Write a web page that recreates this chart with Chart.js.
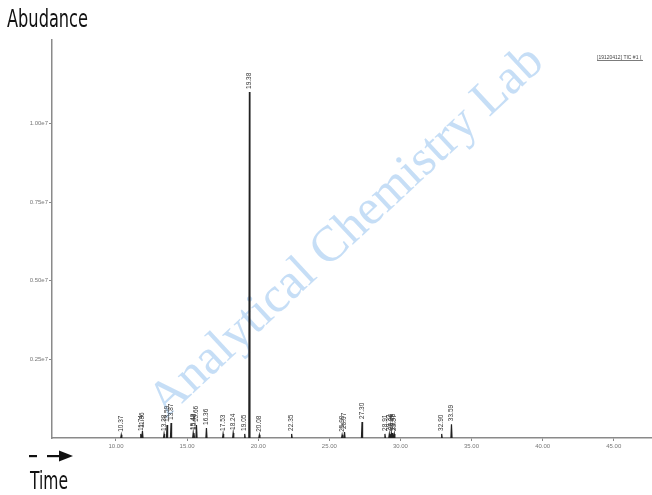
<!DOCTYPE html>
<html>
<head>
<meta charset="utf-8">
<script src="https://cdn.jsdelivr.net/npm/chart.js@4"></script>
<style>
  body { margin: 0; background: #fff; }
  canvas { display: block; }
</style>
</head>
<body>
<canvas id="tic" width="652" height="495"></canvas>
<script>
// retention times (min) and apex abundances
const peakTimes = [10.37, 11.74, 11.86, 13.38, 13.59, 13.87, 15.43, 15.48, 15.66, 16.36, 17.53, 18.24, 19.05, 19.38, 20.08, 22.35, 25.90, 26.07, 27.30, 28.91, 29.22, 29.36, 29.46, 29.57, 32.90, 33.59];
const peakHeights = [1.0e5, 1.3e5, 2.2e5, 1.3e5, 4.1e5, 4.8e5, 1.6e5, 1.6e5, 4.1e5, 3.2e5, 1.3e5, 1.6e5, 1.3e5, 1.10e7, 1.0e5, 1.3e5, 1.0e5, 1.9e5, 5.1e5, 1.3e5, 1.3e5, 1.6e5, 1.6e5, 1.3e5, 1.3e5, 4.4e5];
const peakLabels = ['10.37', '11.74', '11.86', '13.38', '13.59', '13.87', '15.43', '15.48', '15.66', '16.36', '17.53', '18.24', '19.05', '19.38', '20.08', '22.35', '25.90', '26.07', '27.30', '28.91', '29.22', '29.36', '29.46', '29.57', '32.90', '33.59'];

const xTicks = [10, 15, 20, 25, 30, 35, 40, 45];
const yTicks = [2.5e6, 5.0e6, 7.5e6, 1.0e7];

const halfWidth = 0.04;
const axisGray = '#8a8a8a';

// each peak is a narrow triangle, separated by gaps
const trace = [];
peakTimes.forEach((t, i) => {
    trace.push({ x: t - halfWidth, y: 0 });
    trace.push({ x: t, y: peakHeights[i] });
    trace.push({ x: t + halfWidth, y: 0 });
    trace.push({ x: t + halfWidth, y: null });
});

const extras = {
    id: 'extras',
    beforeDatasetsDraw(chart) {
        const ctx = chart.ctx;
        ctx.save();
        ctx.translate(347, 232);
        ctx.rotate(-43 * Math.PI / 180);
        ctx.font = '50px "Liberation Serif", "DejaVu Serif", serif';
        ctx.fillStyle = 'rgba(160, 200, 240, 0.6)';
        ctx.textAlign = 'center';
        ctx.textBaseline = 'middle';
        ctx.fillText('Analytical Chemistry Lab', 0, 0);
        ctx.restore();
    },
    afterDatasetsDraw(chart) {
        const ctx = chart.ctx;
        const xs = chart.scales.x, ys = chart.scales.y;
        ctx.save();
        ctx.font = '6.5px "Liberation Sans", Arial, sans-serif';
        ctx.fillStyle = '#333';
        ctx.textAlign = 'left';
        ctx.textBaseline = 'middle';
        peakTimes.forEach((t, i) => {
            const px = xs.getPixelForValue(t);
            const py = ys.getPixelForValue(peakHeights[i]);
            ctx.save();
            ctx.translate(px, py - 3);
            ctx.rotate(-Math.PI / 2);
            ctx.fillText(peakLabels[i], 0, 0);
            ctx.restore();
        });
        ctx.restore();
    },
    afterDraw(chart) {
        const ctx = chart.ctx;
        ctx.save();
        ctx.fillStyle = '#111';
        ctx.textAlign = 'left';
        ctx.textBaseline = 'alphabetic';
        ctx.font = '25px "Liberation Sans Narrow", "DejaVu Sans Condensed", sans-serif';
        ctx.fillText('Abudance', 7, 27, 81);
        ctx.fillText('Time', 30, 489, 38);

        // dashed arrow
        ctx.fillRect(29, 455, 8, 2.2);
        ctx.fillRect(47, 455, 14, 2.2);
        ctx.beginPath();
        ctx.moveTo(59, 450.5);
        ctx.lineTo(73, 456);
        ctx.lineTo(59, 461.5);
        ctx.closePath();
        ctx.fill();

        // run id, top right
        ctx.font = '5px "Liberation Sans", Arial, sans-serif';
        ctx.fillStyle = '#444';
        ctx.fillText('[19120412] TIC #1 (', 597, 59);
        ctx.fillRect(597, 60, 46, 0.7);
        ctx.restore();
    }
};

new Chart(document.getElementById('tic'), {
    type: 'line',
    data: {
        datasets: [{
            data: trace,
            borderColor: '#222',
            borderWidth: 1.2,
            pointRadius: 0,
            tension: 0,
            spanGaps: false
        }]
    },
    options: {
        responsive: false,
        animation: false,
        events: [],
        layout: { padding: { top: 40, right: 0, left: 0, bottom: 0 } },
        plugins: {
            legend: { display: false },
            tooltip: { enabled: false }
        },
        scales: {
            x: {
                type: 'linear',
                min: 5.5,
                max: 47.69,
                afterBuildTicks(s) { s.ticks = xTicks.map(v => ({ value: v })); },
                afterFit(s) { s.height = 57; },
                ticks: {
                    color: '#777',
                    font: { size: 6, family: '"Liberation Sans", Arial, sans-serif' },
                    padding: 2,
                    maxRotation: 0,
                    autoSkip: false,
                    callback: v => v.toFixed(2)
                },
                grid: { drawOnChartArea: false, tickLength: 3, color: axisGray },
                border: { color: axisGray, width: 1.5 }
            },
            y: {
                min: 0,
                max: 1.265e7,
                afterBuildTicks(s) { s.ticks = yTicks.map(v => ({ value: v })); },
                afterFit(s) { s.width = 52; },
                ticks: {
                    color: '#777',
                    font: { size: 6, family: '"Liberation Sans", Arial, sans-serif' },
                    padding: 1,
                    callback: v => (v / 1e7).toFixed(2) + 'e7'
                },
                grid: { drawOnChartArea: false, tickLength: 3, color: axisGray },
                border: { color: axisGray, width: 1.5 }
            }
        }
    },
    plugins: [extras]
});
</script>
</body>
</html>
